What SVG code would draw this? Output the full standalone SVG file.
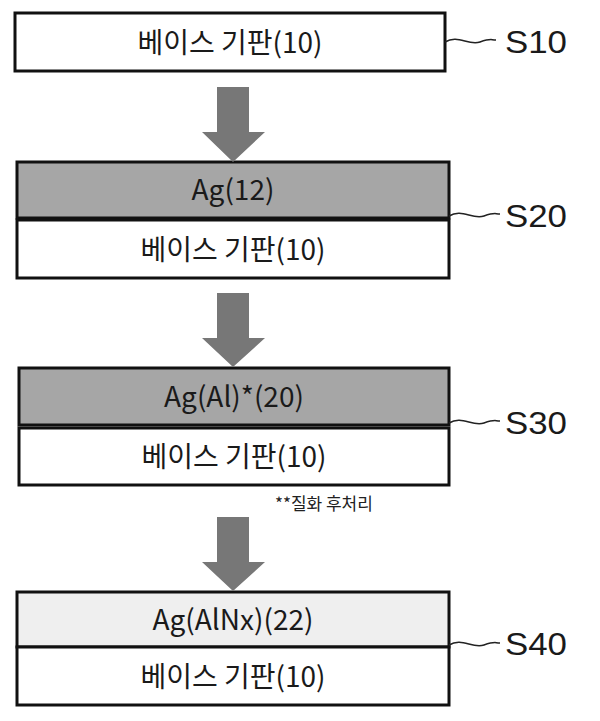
<svg xmlns="http://www.w3.org/2000/svg" width="600" height="721" viewBox="0 0 600 721">
<style>
.b{stroke:#111;stroke-width:3}
.t{font-family:"Noto Sans CJK KR","Noto Sans",sans-serif;font-size:28px;fill:#1a1a1a;text-anchor:middle}
.s{font-family:"Liberation Sans",sans-serif;font-size:32px;fill:#1a1a1a;}
.a{fill:#777}
.q{fill:none;stroke:#222;stroke-width:1.5}
</style>
<rect width="600" height="721" fill="#fff"/>
<g id="s10"><rect class="b" x="15" y="13" width="430" height="58" fill="#fff"/><text class="t" x="230" y="53">베이스 기판(10)</text></g>
<g id="s20">
<rect class="b" x="17" y="162" width="432" height="56" fill="#a6a6a6"/><text class="t" x="233" y="200">Ag(12)</text>
<rect class="b" x="17" y="220" width="432" height="58" fill="#fff"/><text class="t" x="233" y="260">베이스 기판(10)</text></g>
<g id="s30">
<rect class="b" x="19" y="368" width="430" height="57" fill="#a6a6a6"/><text class="t" x="234" y="407">Ag(Al)*(20)</text>
<rect class="b" x="19" y="428" width="430" height="57" fill="#fff"/><text class="t" x="234" y="467">베이스 기판(10)</text></g>
<text x="275" y="510" style="font-family:'Noto Sans CJK KR',sans-serif;font-size:17px;fill:#222">**질화 후처리</text>
<g id="s40">
<rect class="b" x="17" y="592" width="432" height="55" fill="#efefef"/><text class="t" x="233" y="630">Ag(AlNx)(22)</text>
<rect class="b" x="17" y="647" width="432" height="58" fill="#fff"/><text class="t" x="233" y="687">베이스 기판(10)</text></g>
<g id="connectors">
<path class="a" d="M217 87H249V132H265L233 162L202 132H217Z"/>
<path class="a" d="M217 293H249V338H265L233 367L202 338H217Z"/>
<path class="a" d="M217 517H249V562H265L233 591L202 562H217Z"/>
<path class="q" d="M445 42C458 34 468 46 480 42S490 40 496 40"/>
<path class="q" d="M449 216C462 208 472 220 484 216S494 214 500 214"/>
<path class="q" d="M449 423C462 415 472 427 484 423S494 421 500 421"/>
<path class="q" d="M449 645C462 637 472 649 484 645S494 643 500 643"/>
</g>
<text class="s" x="505" y="53" textLength="62" lengthAdjust="spacingAndGlyphs">S10</text>
<text class="s" x="505" y="227" textLength="62" lengthAdjust="spacingAndGlyphs">S20</text>
<text class="s" x="505" y="434" textLength="62" lengthAdjust="spacingAndGlyphs">S30</text>
<text class="s" x="505" y="655" textLength="62" lengthAdjust="spacingAndGlyphs">S40</text>
</svg>
